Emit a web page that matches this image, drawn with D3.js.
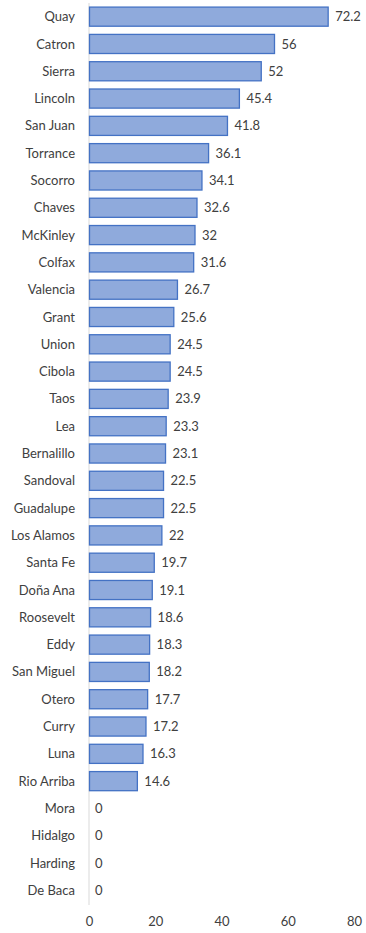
<!DOCTYPE html>
<html><head><meta charset="utf-8">
<script src="https://cdn.jsdelivr.net/npm/d3@7"></script>
<style>body{margin:0;background:#fff}svg{display:block}</style>
</head><body>
<svg id="c" width="366" height="933"></svg>
<script>
const counties = ["Quay","Catron","Sierra","Lincoln","San Juan","Torrance","Socorro","Chaves","McKinley","Colfax","Valencia","Grant","Union","Cibola","Taos","Lea","Bernalillo","Sandoval","Guadalupe","Los Alamos","Santa Fe","Doña Ana","Roosevelt","Eddy","San Miguel","Otero","Curry","Luna","Rio Arriba","Mora","Hidalgo","Harding","De Baca"];
const values = [72.2,56,52,45.4,41.8,36.1,34.1,32.6,32,31.6,26.7,25.6,24.5,24.5,23.9,23.3,23.1,22.5,22.5,22,19.7,19.1,18.6,18.3,18.2,17.7,17.2,16.3,14.6,0,0,0,0];
const xTicks = [0,20,40,60,80];

const svg = d3.select("#c");
const font = "Lato, 'Open Sans', sans-serif";
const x = d3.scaleLinear().domain([0,80]).range([89,354]);
const y = d3.scaleBand().domain(counties).range([3,904]).paddingInner(0.3).paddingOuter(0.15);

// axis line
svg.append("line").attr("x1",x(0)).attr("x2",x(0)).attr("y1",3).attr("y2",905)
  .attr("stroke","#d9d9d9").attr("stroke-width",1);

const data = counties.map((c,i)=>({c, v: values[i]}));
svg.selectAll("rect.bar").data(data).join("rect").attr("class","bar")
  .attr("x", x(0)+0.5).attr("y", d=>y(d.c))
  .attr("width", d=>Math.max(0, x(d.v)-x(0)-0.5)).attr("height", y.bandwidth())
  .attr("fill","#8faadc").attr("stroke","#4472c4").attr("stroke-width",1.3)
  .attr("display", d=>d.v>0?null:"none");

svg.selectAll("text.cat").data(data).join("text").attr("class","cat")
  .attr("x",75).attr("y",d=>y(d.c)+y.bandwidth()/2).attr("dy","0.35em")
  .attr("text-anchor","end").attr("font-family",font).attr("font-size",13).attr("fill","#404040")
  .text(d=>d.c);

svg.selectAll("text.val").data(data).join("text").attr("class","val")
  .attr("x",d=>x(d.v)+ (d.v>0?7:6)).attr("y",d=>y(d.c)+y.bandwidth()/2).attr("dy","0.35em")
  .attr("font-family",font).attr("font-size",13).attr("fill","#404040")
  .text(d=>d.v);

const ax = svg.append("g").attr("transform","translate(0,917)")
  .call(d3.axisBottom(x).tickValues(xTicks).tickSize(0).tickPadding(0));
ax.select(".domain").remove();
ax.selectAll("text").attr("font-family",font).attr("font-size",13).attr("fill","#404040");
</script>
</body></html>
